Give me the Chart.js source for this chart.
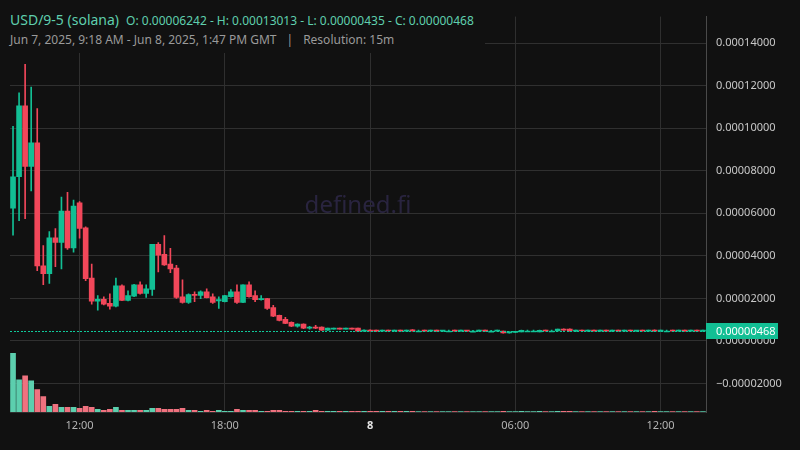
<!DOCTYPE html>
<html>
<head>
<meta charset="utf-8">
<script src="https://cdn.jsdelivr.net/npm/chart.js@4/dist/chart.umd.min.js"></script>
<style>
  html, body { margin: 0; padding: 0; background: #111111; }
  #wrap { position: relative; width: 800px; height: 450px; }
  #hdr {
    position: absolute; left: 0; top: 0; width: 485px; height: 53px;
    background: #111111; font-family: 'Noto Sans', sans-serif;
  }
  #l1 { position: absolute; left: 10px; top: 9px; line-height: 20px; color: #5fcfae; white-space: nowrap; }
  #l1 .sym { font-size: 14px; }
  #l1 .ohlc { font-size: 12px; margin-left: 7px; }
  #l2 { position: absolute; left: 10px; top: 32px; line-height: 16px; font-size: 12px; color: #9a9a9a; white-space: nowrap; }
  #l2 .sep { margin: 0 10px; }
</style>
</head>
<body>
<div id="wrap">
  <canvas id="myChart" width="800" height="450"></canvas>
  <div id="hdr">
    <div id="l1"><span class="sym">USD/9-5 (solana)</span><span class="ohlc">O: 0.00006242 - H: 0.00013013 - L: 0.00000435 - C: 0.00000468</span></div>
    <div id="l2">Jun 7, 2025, 9:18 AM - Jun 8, 2025, 1:47 PM GMT<span class="sep">|</span>Resolution: 15m</div>
  </div>
</div>
<script>
// prices in millionths (1e-6), 15 minute candles from Jun 7 09:15
const PRICE_UNIT = 1e-6;
const START_MIN = 9 * 60 + 15;

const open = [
  62.4, 77.2, 110.6, 82.1, 93.1, 35.3, 31.6, 48.5, 46.3, 61.1,
  43.7, 65.0, 53.2, 29.6, 18.7, 19.6, 17.7, 16.3, 25.9, 19.1,
  21.0, 26.4, 22.4, 24.2, 45.4, 40.7, 36.1, 34.3, 20.7, 18.1,
  21.9, 21.4, 23.1, 20.8, 18.8, 18.5, 20.8, 23.1, 18.1, 26.4,
  21.3, 19.4, 19.9, 15.7, 12.0, 10.2, 8.8, 6.9, 7.9, 6.0,
  6.5, 6.5, 5.1, 5.6, 6.0, 5.6, 6.0, 6.0, 4.6, 5.1,
  4.9, 4.6, 5.0, 4.7, 5.0, 4.6, 5.2, 4.7, 4.7, 4.6,
  4.7, 4.6, 4.7, 4.7, 4.6, 4.7, 4.6, 4.6, 4.7, 4.6,
  4.6, 4.6, 3.8, 4.0, 4.3, 4.7, 4.7, 4.3, 5.0, 4.7,
  4.7, 5.6, 5.6, 4.6, 5.0, 4.6, 5.0, 4.6, 5.0, 4.6,
  5.0, 4.6, 5.0, 4.6, 4.9, 4.6, 5.1, 4.6, 4.7, 4.7,
  4.6, 4.7, 4.6, 4.7, 4.6
];
const high = [
  100.9, 116.7, 130.1, 119.4, 109.3, 44.9, 51.4, 52.8, 67.6, 69.9,
  66.2, 65.5, 53.7, 36.1, 21.3, 20.8, 22.2, 29.6, 26.4, 23.6,
  26.6, 27.8, 26.4, 45.4, 46.3, 49.5, 43.5, 35.5, 28.7, 22.2,
  23.1, 23.6, 24.5, 22.2, 20.8, 21.5, 24.1, 26.4, 26.4, 27.8,
  23.6, 21.3, 20.1, 16.7, 12.2, 11.1, 9.0, 8.1, 8.0, 6.9,
  7.4, 6.6, 6.1, 6.1, 6.1, 6.1, 6.1, 6.1, 5.2, 5.2,
  5.1, 5.1, 5.1, 5.1, 5.1, 5.1, 5.3, 4.8, 4.8, 4.7,
  4.8, 4.7, 4.7, 4.8, 4.7, 4.7, 4.7, 4.7, 4.8, 4.7,
  4.7, 4.7, 4.3, 4.4, 5.1, 4.8, 4.7, 5.1, 5.1, 4.8,
  5.6, 5.7, 5.7, 5.1, 5.1, 5.1, 5.1, 5.1, 5.1, 5.1,
  5.1, 5.1, 5.1, 5.0, 5.0, 5.1, 5.2, 4.7, 4.7, 4.8,
  4.7, 4.8, 4.7, 4.8, 4.7
];
const low = [
  49.7, 56.6, 57.5, 70.5, 33.0, 26.5, 27.0, 34.9, 33.9, 43.0,
  41.8, 48.3, 28.4, 17.3, 14.5, 17.0, 15.0, 16.0, 19.0, 18.8,
  20.8, 22.0, 20.5, 21.4, 32.5, 35.5, 32.1, 20.0, 17.8, 17.6,
  18.5, 19.9, 20.2, 17.6, 15.3, 18.3, 20.6, 17.6, 18.0, 20.6,
  18.5, 19.2, 14.8, 11.4, 9.4, 8.1, 6.7, 6.5, 5.8, 5.6,
  5.8, 5.0, 5.0, 5.5, 5.5, 5.5, 5.5, 4.5, 4.5, 4.6,
  4.5, 4.5, 4.6, 4.6, 4.5, 4.5, 4.6, 4.6, 4.6, 4.6,
  4.6, 4.5, 4.6, 4.6, 4.6, 4.5, 4.5, 4.6, 4.6, 4.5,
  4.6, 3.7, 3.7, 3.9, 4.2, 4.6, 4.6, 4.2, 4.6, 4.6,
  4.6, 5.0, 4.6, 4.5, 4.6, 4.5, 4.6, 4.5, 4.6, 4.5,
  4.6, 4.5, 4.6, 4.5, 4.6, 4.5, 4.5, 4.6, 4.6, 4.6,
  4.6, 4.6, 4.6, 4.6, 4.6
];
const close = [
  77.2, 110.6, 82.1, 93.1, 35.3, 31.6, 48.5, 46.3, 61.1, 43.7,
  63.4, 52.9, 29.3, 18.7, 19.6, 17.3, 16.3, 25.9, 19.1, 21.3,
  26.4, 22.4, 24.5, 45.4, 40.3, 35.8, 33.9, 20.5, 18.1, 21.8,
  21.4, 23.1, 20.4, 18.1, 19.4, 21.3, 23.1, 18.1, 26.4, 20.8,
  19.4, 19.9, 15.3, 11.6, 9.7, 8.3, 6.9, 7.9, 6.0, 6.5,
  6.0, 5.1, 6.0, 6.0, 5.6, 6.0, 5.6, 4.6, 5.1, 4.7,
  4.6, 5.0, 4.7, 5.0, 4.6, 5.0, 4.7, 4.7, 4.6, 4.7,
  4.6, 4.7, 4.7, 4.6, 4.7, 4.6, 4.6, 4.7, 4.6, 4.6,
  4.7, 3.8, 4.2, 4.3, 5.0, 4.7, 4.7, 5.0, 4.7, 4.7,
  5.6, 5.1, 4.7, 5.0, 4.7, 5.0, 4.7, 5.0, 4.6, 5.0,
  4.7, 5.0, 4.7, 4.9, 4.7, 5.0, 4.6, 4.7, 4.7, 4.6,
  4.7, 4.6, 4.7, 4.6, 4.68
];
const volume = [
  597, 327, 367, 317, 227, 157, 57, 77, 47, 47,
  47, 37, 57, 47, 27, 17, 27, 47, 17, 17,
  17, 17, 17, 37, 37, 27, 27, 27, 37, 17,
  17, 7, 17, 7, 17, 7, 7, 27, 17, 17,
  17, 7, 7, 17, 17, 7, 7, 7, 7, 7,
  17, 7, 7, 6, 6, 6, 6, 7, 6, 6,
  6, 6, 6, 6, 6, 6, 7, 5, 5, 5,
  5, 5, 5, 5, 5, 5, 5, 5, 5, 5,
  5, 6, 5, 5, 6, 5, 5, 6, 5, 5,
  6, 6, 6, 5, 5, 5, 5, 5, 5, 5,
  5, 5, 5, 5, 5, 5, 6, 5, 5, 5,
  5, 5, 5, 5, 5
];
const yTicks = [-0.00002, 0, 0.00002, 0.00004, 0.00006, 0.00008, 0.0001, 0.00012, 0.00014];
const xTickText = { '12:00': '12:00', '18:00': '18:00', '00:00': '8', '06:00': '06:00' };
const lastPrice = 0.00000468;

const UP = '#12bf94';
const DOWN = '#f2475a';
const UP_VOL = '#5ccfae';
const DOWN_VOL = '#ef727f';

const labels = open.map((_, i) => {
  const m = (START_MIN + 15 * i) % 1440;
  return String(Math.floor(m / 60)).padStart(2, '0') + ':' + String(m % 60).padStart(2, '0');
});
const isUp = i => close[i] >= open[i];
const bodies = open.map((o, i) => [o * PRICE_UNIT, close[i] * PRICE_UNIT]);
const wicks = high.map((h, i) => [low[i] * PRICE_UNIT, h * PRICE_UNIT]);
const candleColor = ctx => isUp(ctx.dataIndex) ? UP : DOWN;

const fmt = v => (v < 0 ? '\u2212' : '') + Math.abs(v).toFixed(8);

const overlay = {
  id: 'overlay',
  beforeDatasetsDraw(chart) {
    const { ctx, chartArea } = chart;
    ctx.save();
    ctx.font = '24px "Noto Sans", sans-serif';
    ctx.fillStyle = '#29243f';
    ctx.textAlign = 'center';
    ctx.textBaseline = 'middle';
    ctx.fillText('defined.fi', (chartArea.left + chartArea.right) / 2, 206);
    ctx.restore();
  },
  afterDraw(chart) {
    const { ctx, chartArea } = chart;
    const y = Math.round(chart.scales.y.getPixelForValue(lastPrice));
    ctx.save();
    ctx.fillStyle = '#0fc99a';
    for (let x = chartArea.left; x < chartArea.right; x += 3.5) {
      ctx.fillRect(Math.round(x), y, 2, 1);
    }
    ctx.fillStyle = UP;
    ctx.fillRect(chartArea.right, y - 8, 72, 16);
    ctx.fillStyle = '#ffffff';
    ctx.font = '11px "Noto Sans", sans-serif';
    ctx.textBaseline = 'middle';
    ctx.fillText(fmt(lastPrice), chartArea.right + 10, y + 0.5);
    ctx.restore();
  }
};

Chart.defaults.font.family = "'Noto Sans', sans-serif";

new Chart(document.getElementById('myChart').getContext('2d'), {
  type: 'bar',
  data: {
    labels: labels,
    datasets: [
      {
        label: 'body',
        data: bodies,
        backgroundColor: candleColor,
        barThickness: 5,
        minBarLength: 1,
        grouped: false,
        yAxisID: 'y'
      },
      {
        label: 'wick',
        data: wicks,
        backgroundColor: candleColor,
        barThickness: 1,
        minBarLength: 1,
        grouped: false,
        yAxisID: 'y'
      },
      {
        label: 'volume',
        data: volume,
        backgroundColor: ctx => isUp(ctx.dataIndex) ? UP_VOL : DOWN_VOL,
        barThickness: 5,
        grouped: false,
        yAxisID: 'yVol'
      }
    ]
  },
  options: {
    responsive: false,
    animation: false,
    layout: { padding: { top: 10, left: 10, right: 0, bottom: 0 } },
    plugins: { legend: { display: false }, tooltip: { enabled: false } },
    scales: {
      x: {
        offset: true,
        grid: { color: '#2f2f2f', offset: false, drawTicks: false },
        border: { color: '#2f2f2f' },
        ticks: {
          autoSkip: false,
          maxRotation: 0,
          padding: 7,
          color: ctx => ctx.tick && ctx.tick.label === '8' ? '#e6e6e6' : '#b4b4b4',
          font: ctx => ({ size: 11, weight: ctx.tick && ctx.tick.label === '8' ? 'bold' : 'normal' }),
          callback: function (value) {
            const t = xTickText[this.getLabelForValue(value)];
            return t === undefined ? null : t;
          }
        },
        afterFit: s => { s.height = 38; }
      },
      y: {
        position: 'right',
        min: -0.0000334,
        max: 0.0001525,
        grid: { color: '#303030', drawTicks: false },
        border: { color: '#4a4a4a' },
        afterBuildTicks: s => { s.ticks = yTicks.map(v => ({ value: v })); },
        ticks: {
          padding: 10,
          color: '#c8c8c8',
          font: { size: 11 },
          callback: v => fmt(v)
        },
        afterFit: s => { s.width = 94; }
      },
      yVol: {
        display: false,
        min: 0,
        max: 4020
      }
    }
  },
  plugins: [overlay]
});
</script>
</body>
</html>
